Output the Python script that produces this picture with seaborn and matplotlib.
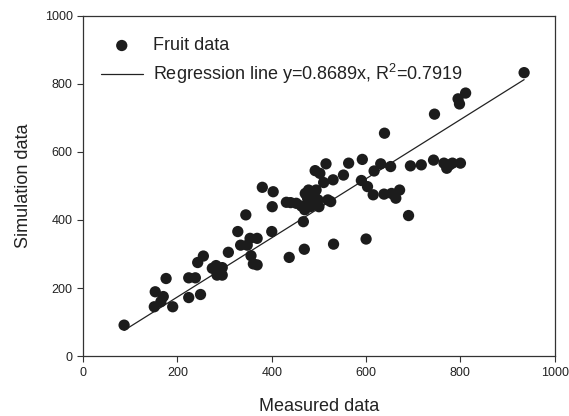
import matplotlib
matplotlib.use("Agg")
import matplotlib.pyplot as plt
import seaborn as sns
import numpy as np
import pandas as pd

measured = [87, 153, 151, 170, 165, 176, 190, 224, 238, 224, 243, 255, 249, 274, 282, 284,
            295, 295, 308, 328, 334, 345, 348, 354, 356, 361, 369, 369, 380, 400, 401, 403,
            431, 440, 452, 437, 469, 463, 467, 471, 475, 478, 482, 486, 490, 492, 494, 498,
            500, 502, 510, 515, 519, 525, 530, 531, 552, 563, 592, 590, 600, 603, 615, 617,
            631, 639, 638, 652, 654, 663, 671, 690, 694, 717, 743, 745, 765, 771, 777, 783,
            795, 798, 800, 811, 935, 470, 480, 485, 476, 488]
simulated = [91, 189, 145, 175, 160, 228, 145, 230, 230, 172, 275, 294, 181, 258, 266, 238,
             260, 238, 305, 366, 326, 415, 326, 346, 295, 271, 346, 268, 496, 366, 439, 483,
             452, 451, 449, 290, 314, 441, 395, 478, 469, 488, 439, 459, 474, 545, 488, 459,
             439, 537, 510, 565, 459, 454, 518, 329, 532, 567, 578, 516, 344, 498, 474, 544,
             565, 655, 476, 557, 478, 464, 488, 413, 559, 562, 576, 711, 567, 552, 562, 567,
             756, 741, 567, 773, 833, 430, 445, 480, 465, 470]
slope = 0.8689
r_squared = 0.7919
x_ticks = [0, 200, 400, 600, 800, 1000]
y_ticks = [0, 200, 400, 600, 800, 1000]

df = pd.DataFrame({"Measured data": measured, "Simulation data": simulated})
xs = np.array([min(measured), max(measured)])
line_df = pd.DataFrame({"x": xs, "y": slope * xs})

sns.set_style("ticks")
plt.rcParams['font.family'] = ['Liberation Sans', 'DejaVu Sans']
plt.rcParams['mathtext.fontset'] = 'custom'
plt.rcParams['mathtext.rm'] = 'Liberation Sans'

fig = plt.figure(figsize=(5.69, 4.16), dpi=100)
ax = fig.add_axes([0.146, 0.144, 0.829, 0.818])

sns.scatterplot(data=df, x="Measured data", y="Simulation data", ax=ax, color="#1c1c1c",
                s=66, edgecolor="none", label="Fruit data", zorder=3)
sns.lineplot(data=line_df, x="x", y="y", ax=ax, color="#222222", linewidth=0.9,
             label=f"Regression line y={slope}x, R$^\\mathregular{{2}}$={r_squared}", zorder=2)

ax.set_xlim(0, 1000)
ax.set_ylim(0, 1000)
ax.set_xticks(x_ticks)
ax.set_yticks(y_ticks)
ax.tick_params(axis="both", labelsize=9, length=4, width=0.8, colors="#333333", direction="out")
ax.tick_params(axis="both", labelcolor="#222222")
for sp in ax.spines.values():
    sp.set_color("#333333")
    sp.set_linewidth(0.9)
ax.set_xlabel("Measured data", fontsize=13, labelpad=14, color="#222222")
ax.set_ylabel("Simulation data", fontsize=13, labelpad=9, color="#222222")

leg = ax.legend(loc="upper left", bbox_to_anchor=(0.038, 0.937), frameon=False, fontsize=13,
                handlelength=2.3, handletextpad=0.6, labelspacing=0.45, borderpad=0,
                borderaxespad=0)
for t in leg.get_texts():
    t.set_color("#222222")

fig.savefig("out.png", dpi=100)
